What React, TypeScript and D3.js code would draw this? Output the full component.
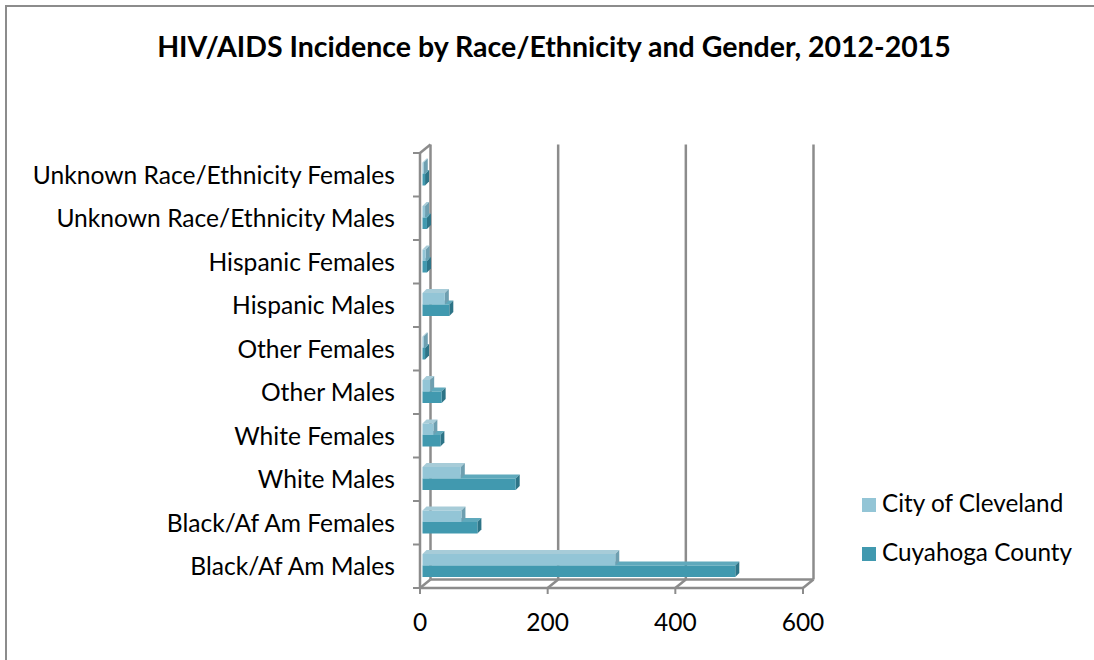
import React from 'react';
import * as d3 from 'd3';

// data, bottom to top as drawn
const categories = [
  'Black/Af Am Males',
  'Black/Af Am Females',
  'White Males',
  'White Females',
  'Other Males',
  'Other Females',
  'Hispanic Males',
  'Hispanic Females',
  'Unknown Race/Ethnicity Males',
  'Unknown Race/Ethnicity Females',
];
const cityValues = [302, 61, 60, 17, 12, 2, 35, 5, 4, 2];
const countyValues = [490, 86, 146, 28, 30, 4, 42, 7, 7, 4];
const xTicks = [0, 200, 400, 600];
const seriesNames = ['City of Cleveland', 'Cuyahoga County'];

const W = 1094;
const H = 660;
const FONT = 'Lato, "Open Sans", sans-serif';

// 3d look: back wall offset
const DX = 10.5;
const DY = -8.5;
const BD = 4; // bar depth

const light = { front: '#93C5D6', top: '#A7CCD8', side: '#6E9FB0' };
const dark = { front: '#4199AF', top: '#5FA9BC', side: '#2D7487' };
const axisColor = '#8C8C8C';

function Bar({ x0, x1, y0, h, c }: { x0: number; x1: number; y0: number; h: number; c: typeof light }) {
  const w = Math.max(x1 - x0, 0.5);
  return (
    <g>
      <polygon
        points={`${x0},${y0} ${x0 + BD},${y0 - BD} ${x0 + w + BD},${y0 - BD} ${x0 + w},${y0}`}
        fill={c.top}
      />
      <polygon
        points={`${x0 + w},${y0} ${x0 + w + BD},${y0 - BD} ${x0 + w + BD},${y0 + h - BD} ${x0 + w},${y0 + h}`}
        fill={c.side}
      />
      <rect x={x0} y={y0} width={w} height={h} fill={c.front} />
    </g>
  );
}

export default function App() {
  const x = d3.scaleLinear().domain([0, 600]).range([420, 803]);
  const y = d3.scaleBand<string>().domain(categories).range([588, 153]).padding(0);
  const bw = y.bandwidth();
  const yTop = 153;
  const yBot = 588;
  const off = 2.5; // bars sit a little behind the front plane

  const bandEdges = d3.range(categories.length + 1).map((i) => yBot - i * bw);

  return (
    <svg width={W} height={H} style={{ position: 'absolute', left: 0, top: 0 }} fontFamily={FONT}>
      <rect x={0} y={0} width={W} height={H} fill="#fff" />
      <rect x={6} y={6} width={W + 10} height={H + 10} fill="none" stroke={axisColor} strokeWidth={2} />

      <text x={554} y={57} textAnchor="middle" fontSize={28.5} fontWeight="bold" fill="#000">
        HIV/AIDS Incidence by Race/Ethnicity and Gender, 2012-2015
      </text>

      {/* back wall gridlines */}
      {xTicks.map((t) => (
        <line key={'g' + t} x1={x(t) + DX} x2={x(t) + DX} y1={yTop + DY} y2={yBot + DY} stroke={axisColor} strokeWidth={2.5} />
      ))}
      {/* floor */}
      <line x1={x(0) + DX} x2={x(600) + DX} y1={yBot + DY} y2={yBot + DY} stroke={axisColor} strokeWidth={2.5} />
      {xTicks.map((t) => (
        <line key={'d' + t} x1={x(t)} x2={x(t) + DX} y1={yBot} y2={yBot + DY} stroke={axisColor} strokeWidth={2.5} />
      ))}
      <line x1={x(0)} x2={x(0) + DX} y1={yTop} y2={yTop + DY} stroke={axisColor} strokeWidth={2.5} />

      {/* bars */}
      {categories.map((c, i) => {
        const t = y(c)!;
        const h = 11.5;
        return (
          <g key={c}>
            <Bar x0={x(0) + off} x1={x(countyValues[i]) + off} y0={t + 21} h={h} c={dark} />
            <Bar x0={x(0) + off} x1={x(cityValues[i]) + off} y0={t + 9.5} h={h} c={light} />
          </g>
        );
      })}

      {/* front axes */}
      <line x1={x(0)} x2={x(0)} y1={yTop} y2={yBot} stroke={axisColor} strokeWidth={2.5} />
      <line x1={x(0)} x2={x(600)} y1={yBot} y2={yBot} stroke={axisColor} strokeWidth={2.5} />
      {bandEdges.map((e, i) => (
        <line key={'t' + i} x1={x(0) - 7} x2={x(0)} y1={e} y2={e} stroke={axisColor} strokeWidth={2} />
      ))}
      {xTicks.map((t) => (
        <line key={'xt' + t} x1={x(t)} x2={x(t)} y1={yBot} y2={yBot + 6} stroke={axisColor} strokeWidth={2} />
      ))}

      {/* labels */}
      {categories.map((c) => (
        <text key={'l' + c} x={395} y={y(c)! + bw / 2 + 3} textAnchor="end" dominantBaseline="middle" fontSize={24.6} fill="#000">
          {c}
        </text>
      ))}
      {xTicks.map((t) => (
        <text key={'xl' + t} x={x(t)} y={625} textAnchor="middle" dominantBaseline="middle" fontSize={24.5} fill="#000">
          {t}
        </text>
      ))}

      {/* legend */}
      {seriesNames.map((s, i) => (
        <g key={s} transform={`translate(862, ${498 + i * 49})`}>
          <rect x={0} y={0} width={14} height={14} fill={i === 0 ? light.front : dark.front} />
          <text x={20} y={7.5} dominantBaseline="middle" fontSize={24.3} fill="#000">
            {s}
          </text>
        </g>
      ))}
    </svg>
  );
}
